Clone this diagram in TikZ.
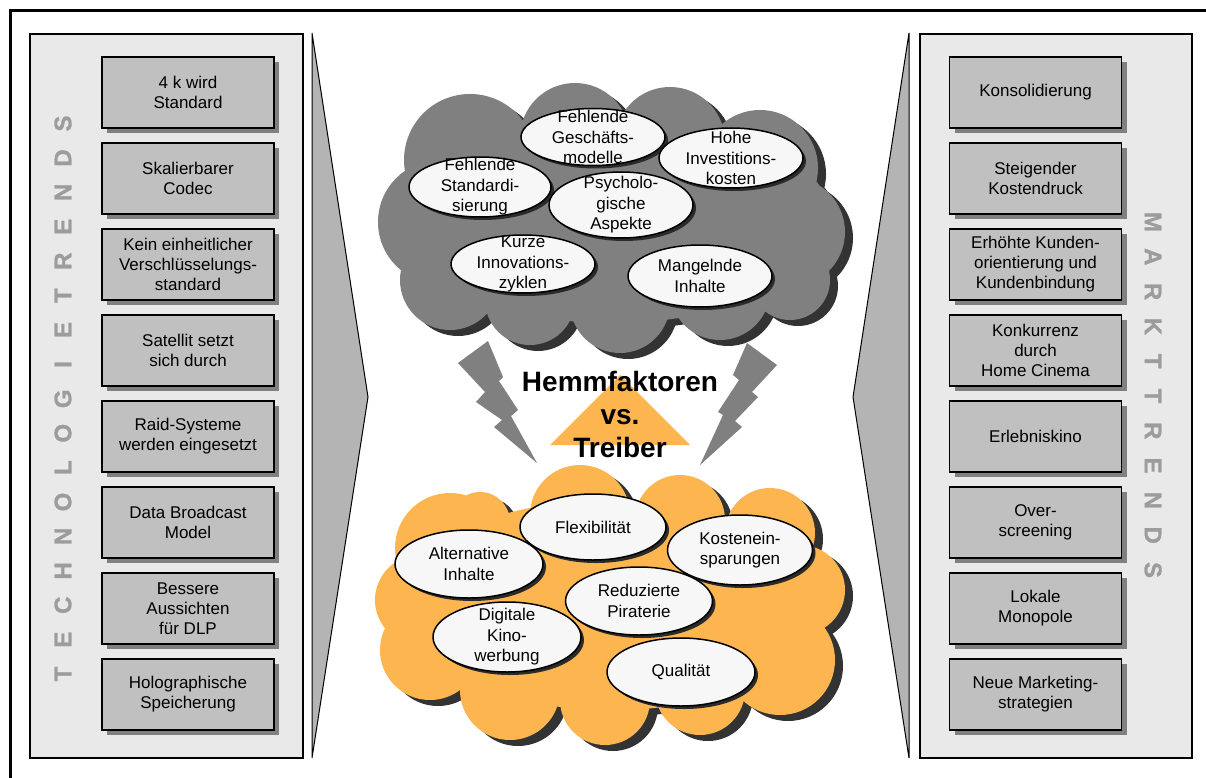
\documentclass[tikz,border=0pt]{standalone}
\usepackage{fontspec}
\setmainfont{Liberation Sans}
\newfontfamily\heavyfont{Liberation Sans}[BoldFeatures={FakeBold=1.2}]
\usetikzlibrary{shapes.geometric}
\definecolor{panelfill}{HTML}{E9E9E9}
\definecolor{boxfill}{HTML}{C0C0C0}
\definecolor{boxshadow}{HTML}{808080}
\definecolor{wedgefill}{HTML}{B4B4B4}
\definecolor{cloudgray}{HTML}{808080}
\definecolor{cloudshadow}{HTML}{333333}
\definecolor{cloudorange}{HTML}{FDB54F}
\definecolor{ellfill}{HTML}{F7F7F7}
\definecolor{ellshadow}{HTML}{2A2A2A}
\definecolor{boltgray}{HTML}{808080}
\definecolor{lettergray}{HTML}{9C9C9C}
\newcommand\topcloudshape[1]{%
  \fill[#1] (612,218) ellipse [x radius=218, y radius=105]
    (470,160) circle [radius=66] (575,138) circle [radius=55]
    (670,142) circle [radius=55] (760,168) circle [radius=58]
    (790,232) circle [radius=55] (440,222) circle [radius=62]
    (450,280) circle [radius=50] (530,300) circle [radius=45]
    (620,303) circle [radius=50] (720,290) circle [radius=50]
    (790,280) circle [radius=40];}
\newcommand\bottomcloudshape[1]{%
  \fill[#1] (612,605) ellipse [x radius=215, y radius=105]
    (450,548) circle [radius=55] (420,600) circle [radius=45]
    (430,650) circle [radius=50] (510,690) circle [radius=50]
    (605,700) circle [radius=45] (700,690) circle [radius=45]
    (780,660) circle [radius=55] (800,590) circle [radius=45]
    (770,533) circle [radius=45] (680,520) circle [radius=45]
    (580,515) circle [radius=50] (480,522) circle [radius=30];}
\begin{document}
\begin{tikzpicture}[x=1pt,y=-1pt,
  panel/.style={draw=black, line width=1.5pt, fill=panelfill},
  trendbox/.style={draw=black, line width=1.3pt, fill=boxfill,
    minimum width=172pt, minimum height=71pt, inner sep=0pt, align=center,
    font=\fontsize{17}{20}\selectfont,
    preaction={fill=boxshadow, transform canvas={xshift=5pt,yshift=-5pt}}},
  ell/.style={ellipse, draw=black, line width=1.5pt, fill=ellfill, inner sep=0pt,
    preaction={fill=ellshadow, transform canvas={xshift=3pt,yshift=-3pt}}},
  etext/.style={align=center, font=\fontsize{17}{20.5}\selectfont, inner sep=0pt},
  vletter/.style={text=lettergray, inner sep=0pt, font=\heavyfont\bfseries\fontsize{24}{24}\selectfont},
  wedge/.style={draw=black, line width=1pt, fill=wedgefill},
  bolt/.style={fill=boltgray}
]
\useasboundingbox (0,0) rectangle (1206,778);
\clip (0,0) rectangle (1206,778);
\fill[white] (0,0) rectangle (1206,778);
% outer frame
\draw[line width=3pt] (1230,11) -- (10,11) -- (10,800);
% side panels
\draw[panel] (30,34) rectangle (303,758);
\draw[panel] (920,34) rectangle (1192,758);
% wedges
\draw[wedge] (312,33) -- (368,397) -- (312,758) -- cycle;
\draw[wedge] (909,33) -- (853,397) -- (909,758) -- cycle;
% vertical titles
\foreach \l [count=\i from 0] in {T,E,C,H,N,O,L,O,G,I,E,T,R,E,N,D,S}
  \node[vletter, rotate=90] (tl\i) at (63,{674-34.4*\i}) {\l};
\foreach \l [count=\i from 0] in {M,A,R,K,T,T,R,E,N,D,S}
  \node[vletter, rotate=-90] (mr\i) at (1153,{222+34.8*\i}) {\l};
% left boxes
\node[trendbox] (l1) at (188,92.5) {4 k wird\\Standard};
\node[trendbox] (l2) at (188,178.5) {Skalierbarer\\Codec};
\node[trendbox] (l3) at (188,264.5) {Kein einheitlicher\\Verschlüsselungs-\\standard};
\node[trendbox] (l4) at (188,350.5) {Satellit setzt\\sich durch};
\node[trendbox] (l5) at (188,436.5) {Raid-Systeme\\werden eingesetzt};
\node[trendbox] (l6) at (188,522.5) {Data Broadcast\\Model};
\node[trendbox] (l7) at (188,608.5) {Bessere\\Aussichten\\für DLP};
\node[trendbox] (l8) at (188,694.5) {Holographische\\Speicherung};
% right boxes
\node[trendbox] (r1) at (1035.5,92.5) {Konsolidierung};
\node[trendbox] (r2) at (1035.5,178.5) {Steigender\\Kostendruck};
\node[trendbox] (r3) at (1035.5,264.5) {Erhöhte Kunden-\\orientierung und\\Kundenbindung};
\node[trendbox] (r4) at (1035.5,350.5) {Konkurrenz\\durch\\Home Cinema};
\node[trendbox] (r5) at (1035.5,436.5) {Erlebniskino};
\node[trendbox] (r6) at (1035.5,522.5) {Over-\\screening};
\node[trendbox] (r7) at (1035.5,608.5) {Lokale\\Monopole};
\node[trendbox] (r8) at (1035.5,694.5) {Neue Marketing-\\strategien};
% lightning bolts
\fill[bolt] (458,363) -- (488,341) -- (503,377) -- (499,381) -- (518,410) -- (511,416)
  -- (537,463) -- (494,427) -- (502,420) -- (476,402) -- (485,392) -- cycle;
\fill[bolt] (777,365) -- (747,343) -- (733,375) -- (739,380) -- (718,412) -- (723,415)
  -- (700,465) -- (742,427) -- (735,421) -- (758,397) -- (752,392) -- cycle;
% clouds
\begin{scope}[shift={(8,6)}]
  \topcloudshape{cloudshadow}
  \bottomcloudshape{cloudshadow}
\end{scope}
\topcloudshape{cloudgray}
\bottomcloudshape{cloudorange}
% centre triangle and title
\fill[cloudorange] (550,445) -- (620,375) -- (690,445) -- cycle;
\node[align=center, inner sep=0pt, font=\fontsize{28}{33}\selectfont\bfseries] (title) at (620,414)
  {Hemmfaktoren\\vs.\\Treiber};
% top ellipses
\node[ell, minimum width=144pt, minimum height=57pt] (h1) at (593,137) {};
\node[etext] (h1t) at (h1) {Fehlende\\Geschäfts-\\modelle};
\node[ell, minimum width=144pt, minimum height=60pt] (h2) at (731,158) {};
\node[etext] (h2t) at (h2) {Hohe\\Investitions-\\kosten};
\node[ell, minimum width=142pt, minimum height=60pt] (h3) at (480,187) {};
\node[etext] (h3t) at (h3) {Fehlende\\Standardi-\\sierung};
\node[ell, minimum width=144pt, minimum height=66pt] (h4) at (621,205) {};
\node[etext] (h4t) at (h4) {Psycholo-\\gische\\Aspekte};
\node[ell, minimum width=144pt, minimum height=58pt] (h5) at (523,264) {};
\node[etext] (h5t) at (h5) {Kurze\\Innovations-\\zyklen};
\node[ell, minimum width=144pt, minimum height=62pt] (h6) at (700,276) {};
\node[etext] (h6t) at (h6) {Mangelnde\\Inhalte};
% bottom ellipses
\node[ell, minimum width=146pt, minimum height=66pt] (t1) at (593,527) {};
\node[etext] (t1t) at (t1) {Flexibilität};
\node[ell, minimum width=145pt, minimum height=70pt] (t2) at (740,550) {};
\node[etext] (t2t) at (t2) {Kostenein-\\sparungen};
\node[ell, minimum width=148pt, minimum height=68pt] (t3) at (469,564) {};
\node[etext] (t3t) at (t3) {Alternative\\Inhalte};
\node[ell, minimum width=147pt, minimum height=68pt] (t4) at (639,601) {};
\node[etext] (t4t) at (t4) {Reduzierte\\Piraterie};
\node[ell, minimum width=148pt, minimum height=70pt] (t5) at (507,637) {};
\node[etext] (t5t) at (t5) {Digitale\\Kino-\\werbung};
\node[ell, minimum width=148pt, minimum height=68pt] (t6) at (681,672) {};
\node[etext] (t6t) at (t6) {Qualität};
\end{tikzpicture}
\end{document}
